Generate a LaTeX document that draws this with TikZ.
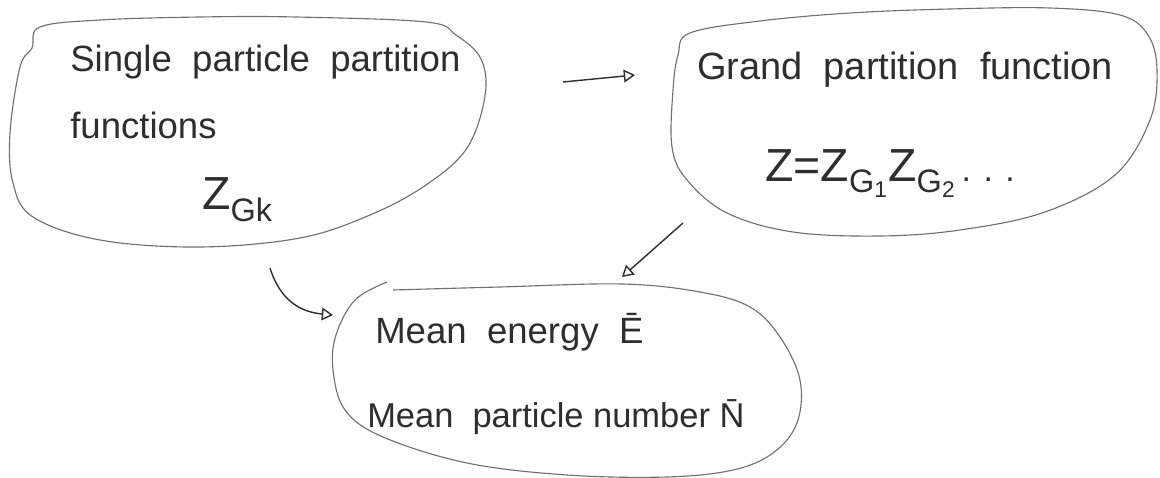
\documentclass[tikz,border=0pt]{standalone}
\usepackage{fontspec}
\setmainfont{Liberation Sans}
\usetikzlibrary{arrows.meta}
\definecolor{pencil}{HTML}{2E2E2E}
\definecolor{outline}{HTML}{707070}

\begin{document}
\begin{tikzpicture}[>={Triangle[open,length=2.8mm,width=3.2mm]},x=0.025cm,y=-0.025cm,
          hand/.style={anchor=base west,inner sep=0pt,text=pencil,font=\fontsize{26}{30}\selectfont},
          big/.style={hand,font=\fontsize{33}{36}\selectfont},
          blob/.style={draw=outline,line width=0.8pt},
          link/.style={draw=pencil,line width=1pt,->}]
        \useasboundingbox (0,0) rectangle (1160,478);
        % single particle box
        \node[hand] (single1) at (70,72) {Single \ particle \ partition};
        \node[hand] (single2) at (70,139) {functions};
        \node[big] (zgk) at (202,210) {Z\textsubscript{Gk}};
        \draw[blob] plot[smooth cycle,tension=0.6] coordinates {(40,27) (100,20) (200,17)
          (296,17) (426,22) (456,35) (481,59) (485,96) (467,148) (426,185) (370,215) (300,238)
          (200,247) (100,240) (33,217) (13,183) (10,133) (20,67) (32,48)};
        % grand partition box
        \node[hand,font=\fontsize{27}{30}\selectfont] (grand1) at (697,80) {Grand \ partition \ function};
        \node[big] (grand2) at (765,182) {Z=Z\textsubscript{G\textsubscript{1}}Z\textsubscript{G\textsubscript{2}}{\fontsize{24}{26}\selectfont\,. . .}};
        \draw[blob] plot[smooth cycle,tension=0.6] coordinates {(690,33) (760,21) (850,13) (950,9)
          (1050,8) (1120,15) (1148,35) (1157,70) (1150,120) (1115,175) (1045,212) (960,230)
          (880,236) (793,232) (727,213) (687,180) (672,147) (673,90) (678,55)};
        % mean values box
        \node[hand] (mean1) at (375,344) {Mean \ energy \ \=E};
        \node[hand,font=\fontsize{24.5}{28}\selectfont] (mean2) at (367,428) {Mean \ particle number \=N};
        \draw[blob] plot[smooth,tension=0.6] coordinates {(393,290) (500,287) (622,284) (700,292)
          (750,307) (780,337) (800,380) (797,423) (773,453) (733,470) (667,477) (567,475)
          (467,463) (383,437) (345,410) (333,370) (336,335) (355,300) (387,282)};
        % arrows
        \coordinate (a1s) at (563,82); \coordinate (a1e) at (635,75);
        \coordinate (a2s) at (683,223); \coordinate (a2e) at (622,277);
        \coordinate (a3s) at (270,268); \coordinate (a3e) at (333,315);
        \draw[link] (a1s)--(a1e);
        \draw[link] (a2s)--(a2e);
        \draw[link] (a3s) .. controls (280,300) and (300,312) .. (a3e);
      \end{tikzpicture}
\end{document}
